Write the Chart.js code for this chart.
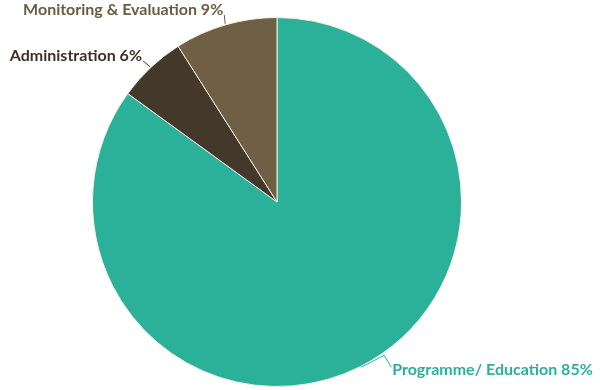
<!DOCTYPE html>
<html>
<head>
<meta charset="utf-8">
<script src="https://cdn.jsdelivr.net/npm/chart.js@4"></script>
<style>
  html, body { margin: 0; padding: 0; background: #ffffff; }
  #wrap { width: 600px; height: 390px; }
</style>
</head>
<body>
<div id="wrap"><canvas id="grafica" width="600" height="390"></canvas></div>
<script>
// datos del gráfico
const categorias = ['Programme/ Education', 'Administration', 'Monitoring & Evaluation'];
const valores = [85, 6, 9];
const colores = ['#2bb09a', '#43382a', '#6f5f45'];
const coloresTexto = ['#2bb09a', '#3b3126', '#6a5b42'];

// etiquetas con línea guía
const etiquetasPlugin = {
    id: 'etiquetas',
    afterDatasetsDraw(chart) {
        const ctx = chart.ctx;
        const meta = chart.getDatasetMeta(0);
        const guias = [
            { quiebre: [23, -12], texto: [30, 0], align: 'left' },
            { quiebre: [-7, -6], texto: [-8, -14], align: 'right' },
            { quiebre: [-1, -9], texto: [-3, -13], align: 'right' }
        ];
        ctx.save();
        ctx.font = 'bold 16px Lato, "Open Sans", sans-serif';
        ctx.textBaseline = 'middle';
        meta.data.forEach((arc, i) => {
            const a = (arc.startAngle + arc.endAngle) / 2;
            const x0 = arc.x + Math.cos(a) * (arc.outerRadius + 1);
            const y0 = arc.y + Math.sin(a) * (arc.outerRadius + 1);
            const g = guias[i];
            const x1 = x0 + g.quiebre[0], y1 = y0 + g.quiebre[1];
            const x2 = x0 + g.texto[0], y2 = y0 + g.texto[1];
            ctx.strokeStyle = coloresTexto[i];
            ctx.lineWidth = 1;
            ctx.beginPath();
            ctx.moveTo(x0, y0);
            ctx.lineTo(x1, y1);
            if (i === 0) ctx.lineTo(x2, y2);
            ctx.stroke();
            ctx.fillStyle = coloresTexto[i];
            ctx.textAlign = g.align;
            const tx = i === 0 ? x2 + 1 : x1 - 1;
            const ty = i === 0 ? y2 + 3 : y1 - 5;
            ctx.fillText(categorias[i] + ' ' + valores[i] + '%', tx, ty);
        });
        ctx.restore();
    }
};

const ctx = document.getElementById('grafica');
new Chart(ctx, {
    type: 'pie',
    data: {
        labels: categorias,
        datasets: [{
            data: valores,
            backgroundColor: colores,
            borderColor: '#f4efe2',
            borderWidth: 1
        }]
    },
    options: {
        responsive: false,
        animation: false,
        layout: {
            padding: { top: 17, bottom: 3, left: 92, right: 138 }
        },
        plugins: {
            legend: { display: false },
            tooltip: { enabled: false }
        }
    },
    plugins: [etiquetasPlugin]
});
</script>
</body>
</html>
